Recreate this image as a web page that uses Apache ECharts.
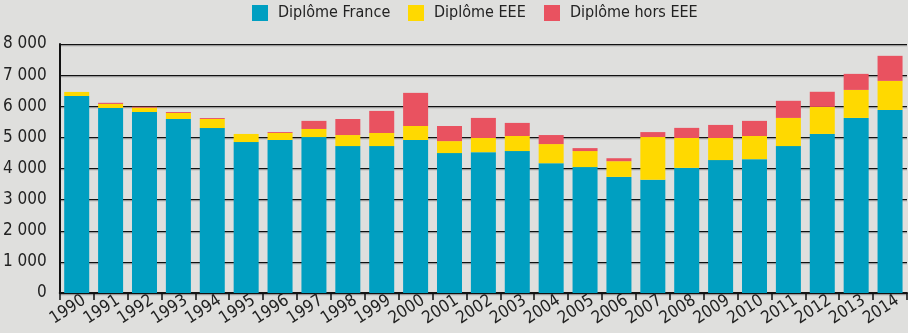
<!DOCTYPE html>
<html>
<head>
<meta charset="utf-8">
<script src="https://cdn.jsdelivr.net/npm/echarts@6/dist/echarts.min.js"></script>
<style>
  html, body { margin: 0; padding: 0; background: #dfdfdd; }
  #chart { width: 908px; height: 333px; }
</style>
</head>
<body>
<div id="chart"></div>
<script>
// Years shown on the horizontal axis
const years = ['1990','1991','1992','1993','1994','1995','1996','1997','1998','1999','2000','2001','2002',
               '2003','2004','2005','2006','2007','2008','2009','2010','2011','2012','2013','2014'];

// Stacked series values
const diplomeFrance = [6330, 5945, 5815, 5590, 5300, 4850, 4915, 5010, 4720, 4720, 4915, 4495, 4525,
                       4560, 4170, 4045, 3730, 3635, 4020, 4270, 4300, 4720, 5110, 5625, 5880];
const diplomeEEE    = [130, 130, 140, 195, 290, 260, 225, 260, 355, 420, 450, 385, 455,
                       485, 615, 515, 505, 1375, 960, 710, 745, 905, 870, 900, 935];
const diplomeHorsEEE = [0, 35, 30, 30, 30, 0, 30, 260, 515, 710, 1065, 485, 645,
                        420, 290, 95, 95, 160, 325, 420, 485, 550, 485, 515, 805];

const seriesNames = ['Diplôme France', 'Diplôme EEE', 'Diplôme hors EEE'];
const seriesColors = ['#009fc1', '#ffd900', '#e95260'];
const legendLefts = [252, 408, 544];

const FONT = '"Liberation Sans Narrow", "DejaVu Sans Condensed", "Roboto", sans-serif';

const chart = echarts.init(document.getElementById('chart'), null, { renderer: 'canvas' });

const makeBar = (name, data, color) => ({
  name, type: 'bar', stack: 'total', data,
  barWidth: 25,
  itemStyle: { color },
  emphasis: { disabled: true }
});

// One legend block per series so each entry sits at its own position
const legends = seriesNames.map((name, i) => ({
  top: 5,
  left: legendLefts[i],
  padding: 0,
  icon: 'rect',
  itemWidth: 16,
  itemHeight: 16,
  textStyle: { fontFamily: FONT, fontSize: 16, color: '#222', padding: [0, 0, 0, 5] },
  data: [name]
}));

chart.setOption({
  backgroundColor: '#dfdfdd',
  animation: false,
  textStyle: { fontFamily: FONT },
  legend: legends,
  grid: { left: 59, right: 1, top: 44, bottom: 40, containLabel: false },
  xAxis: {
    type: 'category',
    data: years,
    boundaryGap: true,
    axisLine: { show: true, lineStyle: { color: '#111', width: 2 } },
    axisTick: { show: true, alignWithLabel: false, length: 7, lineStyle: { color: '#111', width: 1.5 } },
    axisLabel: {
      interval: 0, rotate: 33, margin: 11,
      padding: [0, -9, 0, 0],
      fontFamily: FONT, fontSize: 17, color: '#222'
    }
  },
  yAxis: {
    type: 'value',
    min: 0, max: 8000, interval: 1000,
    axisLine: { show: true, lineStyle: { color: '#111', width: 2 } },
    axisTick: { show: false },
    axisLabel: {
      margin: 13,
      fontFamily: FONT, fontSize: 17, color: '#222',
      formatter: v => v >= 1000 ? Math.floor(v / 1000) + ' ' + String(v % 1000).padStart(3, '0') : String(v)
    },
    splitLine: {
      show: true,
      lineStyle: { color: '#111', width: 1.2, shadowColor: '#9a9a9a', shadowOffsetY: 1.2, shadowBlur: 0.1 }
    }
  },
  series: [
    makeBar(seriesNames[0], diplomeFrance, seriesColors[0]),
    makeBar(seriesNames[1], diplomeEEE, seriesColors[1]),
    makeBar(seriesNames[2], diplomeHorsEEE, seriesColors[2])
  ]
});
</script>
</body>
</html>
